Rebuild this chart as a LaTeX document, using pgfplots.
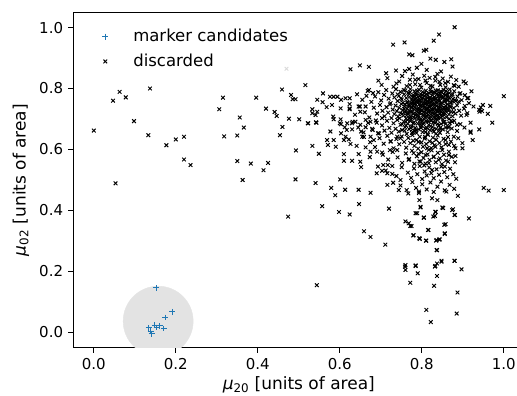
\documentclass[border=0pt]{standalone}
\usepackage{fontspec}
\setmainfont{DejaVu Sans}
\usepackage{pgfplots}
\pgfplotsset{compat=1.18}
\definecolor{tabblue}{RGB}{31,119,180}
\begin{document}
\fontsize{15}{18}\selectfont
\begin{tikzpicture}
\begin{axis}[
 scale only axis, width=451pt, height=335.4pt,
 xmin=-0.05, xmax=1.05, ymin=-0.05, ymax=1.05,
 xtick={0,0.2,0.4,0.6,0.8,1.0}, ytick={0,0.2,0.4,0.6,0.8,1.0},
 tick align=outside, xtick pos=bottom, ytick pos=left,
 major tick length=5pt,
 every tick/.style={black, line width=1pt},
 axis line style={line width=1pt},
 clip marker paths=true,
 tick label style={font=\fontsize{15}{18}\selectfont, /pgf/number format/fixed,/pgf/number format/fixed zerofill,/pgf/number format/precision=1,/pgf/number format/assume math mode=true},
 xlabel={{\itshape μ}\textsubscript{20} [units of area]},
 ylabel={{\itshape μ}\textsubscript{02} [units of area]},
 label style={font=\fontsize{17}{20}\selectfont},
 xlabel style={yshift=3pt},
 legend style={draw=none, fill=none, at={(0.055,0.962)}, anchor=north west, font=\fontsize{16.5}{19}\selectfont, row sep=6pt},
 legend cell align=left,
 legend image code/.code={\path[draw=none,fill=none] (-4pt,-4pt) (26pt,4pt); \draw[#1] plot coordinates {(0pt,0pt)};},
]
\addplot[only marks, mark=*, mark size=35pt, color=black!11, forget plot] coordinates {(0.157,0.037)};
\addplot[only marks, mark=+, color=tabblue, mark size=2.9pt, mark options={line width=1pt}] coordinates {
(0.152,0.146) (0.191,0.068) (0.174,0.049) (0.149,0.024) (0.161,0.022) (0.171,0.013)
(0.134,0.015) (0.139,0.004) (0.141,-0.004) (0.153,0.016)
};
\addlegendentry{marker candidates}
\addplot[only marks, mark=x, color=black, mark size=2.6pt, mark options={line width=0.95pt}] coordinates {
(0.000,0.662) (0.047,0.760) (0.063,0.789) (0.078,0.771) (0.053,0.489) (0.098,0.693)
(0.137,0.800) (0.133,0.647) (0.177,0.614) (0.200,0.633) (0.220,0.642) (0.220,0.567)
(0.236,0.549) (0.306,0.732) (0.315,0.770) (0.318,0.643) (0.356,0.705) (0.350,0.646)
(0.366,0.672) (0.350,0.562) (0.363,0.500) (0.383,0.554) (0.396,0.770) (0.414,0.532)
(0.420,0.734) (0.425,0.556) (0.441,0.723) (0.446,0.710) (0.454,0.647) (0.460,0.674)
(0.459,0.797) (0.474,0.380) (0.476,0.701) (0.481,0.779) (0.485,0.765) (0.492,0.765)
(0.493,0.597) (0.492,0.502) (0.501,0.699) (0.516,0.811) (0.523,0.686) (0.533,0.612)
(0.533,0.732) (0.541,0.713) (0.543,0.688) (0.541,0.490) (0.549,0.586) (0.545,0.763)
(0.544,0.155) (0.557,0.414) (0.559,0.784) (0.579,0.474) (0.589,0.450) (0.598,0.395)
(0.601,0.502) (0.613,0.468) (0.624,0.387) (0.646,0.468) (0.647,0.421) (0.659,0.332)
(0.675,0.313) (0.675,0.458) (0.711,0.288) (0.720,0.406) (0.760,0.364) (0.772,0.349)
(0.759,0.216) (0.760,0.205) (0.772,0.163) (0.785,0.220) (0.790,0.194) (0.779,0.318)
(0.795,0.307) (0.810,0.301) (0.815,0.336) (0.836,0.303) (0.842,0.305) (0.836,0.270)
(0.832,0.216) (0.837,0.226) (0.848,0.232) (0.837,0.185) (0.830,0.153) (0.880,0.235)
(0.897,0.207) (0.887,0.131) (0.811,0.074) (0.822,0.034) (0.885,0.062) (0.856,0.323)
(0.855,0.353) (0.805,0.377) (0.789,0.391) (0.797,0.410) (0.828,0.380) (0.834,0.395)
(0.852,0.408) (0.876,0.404) (0.881,0.385) (0.915,0.374) (0.951,0.474) (0.963,0.465)
(1.000,0.467) (1.000,0.775) (0.880,1.001) (0.842,0.977) (0.829,0.957) (0.758,0.951)
(0.730,0.944) (0.769,0.912) (0.777,0.909) (0.805,0.924) (0.811,0.927) (0.799,0.881)
(0.821,0.898) (0.834,0.894) (0.855,0.887) (0.872,0.896) (0.875,0.872) (0.626,0.863)
(0.649,0.876) (0.671,0.871) (0.713,0.850) (0.737,0.859) (0.769,0.864) (0.694,0.826)
(0.738,0.817) (0.940,0.730) (0.944,0.738) (0.967,0.743) (0.961,0.717) (0.972,0.688)
(0.940,0.666) (0.919,0.655) (0.924,0.631) (0.899,0.604) (0.909,0.713) (0.919,0.688)
(0.907,0.817)
(0.558,0.755) (0.576,0.773) (0.585,0.773) (0.594,0.773) (0.603,0.763) (0.614,0.768)
(0.624,0.768) (0.568,0.739) (0.581,0.746) (0.602,0.735) (0.624,0.749) (0.624,0.735)
(0.646,0.741) (0.650,0.724) (0.663,0.741) (0.671,0.795) (0.681,0.785) (0.665,0.776)
(0.533,0.719) (0.545,0.724) (0.584,0.708) (0.585,0.699) (0.602,0.699) (0.600,0.686)
(0.522,0.686) (0.542,0.689) (0.618,0.686) (0.630,0.686) (0.638,0.691) (0.650,0.681)
(0.663,0.697) (0.675,0.691) (0.690,0.688) (0.703,0.703) (0.612,0.673) (0.630,0.666)
(0.577,0.659) (0.603,0.653) (0.652,0.659) (0.663,0.673) (0.680,0.664) (0.693,0.653)
(0.569,0.631) (0.585,0.631) (0.610,0.631) (0.626,0.618) (0.614,0.642) (0.590,0.609)
(0.571,0.615) (0.610,0.585) (0.610,0.563) (0.630,0.563) (0.650,0.560) (0.646,0.585)
(0.652,0.542) (0.675,0.593) (0.673,0.575) (0.691,0.593) (0.703,0.590) (0.693,0.544)
(0.706,0.549) (0.717,0.549) (0.728,0.546) (0.722,0.598) (0.740,0.598) (0.748,0.637)
(0.724,0.626) (0.740,0.642) (0.655,0.642) (0.675,0.642) (0.683,0.631) (0.663,0.607)
(0.902,0.823) (0.890,0.806) (0.880,0.809) (0.894,0.785) (0.911,0.768) (0.890,0.757)
(0.915,0.752) (0.905,0.743) (0.949,0.746) (0.941,0.724) (0.919,0.659) (0.886,0.681)
(0.874,0.691) (0.866,0.675) (0.878,0.642) (0.858,0.631) (0.866,0.615) (0.882,0.604)
(0.866,0.582) (0.882,0.579) (0.864,0.560) (0.856,0.544) (0.841,0.566) (0.817,0.555)
(0.797,0.560) (0.768,0.566) (0.829,0.577) (0.809,0.582) (0.780,0.588) (0.850,0.598)
(0.833,0.609)
(0.690,0.522) (0.703,0.530) (0.716,0.522) (0.728,0.520) (0.716,0.484) (0.730,0.491)
(0.744,0.467) (0.748,0.500)
(0.767,0.456) (0.793,0.462) (0.794,0.434) (0.860,0.462) (0.888,0.448) (0.825,0.440)
(0.838,0.434) (0.797,0.412) (0.850,0.410) (0.785,0.391) (0.805,0.376) (0.833,0.396)
(0.832,0.382) (0.874,0.401) (0.880,0.385) (0.768,0.358) (0.775,0.349) (0.858,0.355)
(0.816,0.336) (0.856,0.325) (0.780,0.319) (0.794,0.309) (0.811,0.301) (0.835,0.301)
(0.844,0.305) (0.837,0.270) (0.848,0.235) (0.833,0.218) (0.880,0.235) (0.785,0.218)
(0.760,0.221)
(0.702,0.812) (0.716,0.834) (0.731,0.806) (0.745,0.823) (0.752,0.841) (0.763,0.808)
(0.771,0.829) (0.778,0.846) (0.784,0.814) (0.792,0.831) (0.799,0.803) (0.806,0.842)
(0.812,0.818) (0.819,0.835) (0.826,0.807) (0.833,0.826) (0.838,0.848) (0.845,0.812)
(0.851,0.833) (0.858,0.804) (0.864,0.822) (0.871,0.839) (0.878,0.811) (0.884,0.828)
(0.759,0.857) (0.812,0.861) (0.847,0.856) (0.788,0.868)
(0.642,0.781) (0.655,0.763) (0.668,0.792) (0.677,0.756) (0.686,0.774) (0.694,0.788)
(0.701,0.761) (0.708,0.779) (0.713,0.795) (0.719,0.767) (0.724,0.752) (0.728,0.784)
(0.733,0.771) (0.737,0.798) (0.741,0.759) (0.744,0.776) (0.748,0.789) (0.751,0.764)
(0.754,0.753) (0.757,0.781) (0.760,0.794) (0.762,0.769) (0.765,0.757) (0.767,0.786)
(0.770,0.773) (0.772,0.798) (0.775,0.762) (0.777,0.751) (0.779,0.779) (0.782,0.791)
(0.784,0.766) (0.786,0.784) (0.788,0.755) (0.791,0.772) (0.793,0.796) (0.795,0.761)
(0.797,0.782) (0.799,0.768) (0.802,0.789) (0.804,0.753) (0.806,0.776) (0.808,0.764)
(0.810,0.793) (0.813,0.771) (0.815,0.758) (0.817,0.785) (0.819,0.767) (0.821,0.797)
(0.824,0.754) (0.826,0.778) (0.828,0.763) (0.830,0.788) (0.832,0.771) (0.835,0.757)
(0.837,0.782) (0.839,0.794) (0.842,0.765) (0.844,0.776) (0.846,0.752) (0.849,0.787)
(0.851,0.769) (0.854,0.781) (0.856,0.758) (0.859,0.792) (0.861,0.773) (0.864,0.762)
(0.867,0.785) (0.870,0.754) (0.873,0.777) (0.876,0.766) (0.879,0.791) (0.883,0.759)
(0.887,0.774) (0.892,0.783) (0.897,0.762) (0.905,0.778) (0.913,0.769) (0.921,0.791)
(0.771,0.788) (0.778,0.758) (0.783,0.774) (0.789,0.793) (0.794,0.757) (0.801,0.779)
(0.807,0.751) (0.812,0.782) (0.818,0.762) (0.823,0.789) (0.827,0.768) (0.834,0.793)
(0.838,0.761) (0.843,0.784) (0.848,0.773) (0.853,0.796) (0.858,0.765) (0.863,0.781)
(0.868,0.797) (0.874,0.758)
(0.624,0.732) (0.637,0.714) (0.649,0.741) (0.661,0.722) (0.672,0.705) (0.683,0.737)
(0.691,0.718) (0.698,0.746) (0.704,0.727) (0.709,0.709) (0.714,0.739) (0.718,0.721)
(0.722,0.748) (0.726,0.703) (0.729,0.731) (0.733,0.716) (0.736,0.744) (0.739,0.726)
(0.742,0.708) (0.745,0.737) (0.748,0.719) (0.750,0.749) (0.753,0.729) (0.755,0.711)
(0.758,0.741) (0.760,0.723) (0.762,0.702) (0.764,0.734) (0.766,0.716) (0.768,0.746)
(0.770,0.727) (0.772,0.709) (0.774,0.738) (0.776,0.721) (0.778,0.743) (0.780,0.705)
(0.782,0.731) (0.784,0.714) (0.786,0.747) (0.788,0.725) (0.790,0.708) (0.792,0.736)
(0.794,0.719) (0.796,0.742) (0.798,0.701) (0.800,0.729) (0.802,0.713) (0.804,0.745)
(0.806,0.724) (0.808,0.707) (0.810,0.735) (0.812,0.718) (0.814,0.748) (0.816,0.727)
(0.818,0.704) (0.820,0.739) (0.822,0.715) (0.824,0.732) (0.826,0.746) (0.828,0.721)
(0.830,0.708) (0.832,0.737) (0.834,0.719) (0.836,0.743) (0.838,0.728) (0.840,0.703)
(0.842,0.734) (0.844,0.716) (0.846,0.747) (0.848,0.725) (0.851,0.709) (0.853,0.738)
(0.855,0.721) (0.858,0.744) (0.860,0.706) (0.863,0.731) (0.866,0.715) (0.869,0.742)
(0.872,0.724) (0.875,0.709) (0.878,0.736) (0.882,0.718) (0.886,0.745) (0.891,0.727)
(0.896,0.711) (0.903,0.734) (0.911,0.719) (0.926,0.741) (0.947,0.726)
(0.757,0.733) (0.763,0.712) (0.769,0.741) (0.775,0.726) (0.781,0.749) (0.787,0.717)
(0.793,0.731) (0.799,0.744) (0.805,0.711) (0.811,0.728) (0.817,0.742) (0.823,0.706)
(0.829,0.733) (0.835,0.711) (0.841,0.726) (0.847,0.738) (0.852,0.716) (0.857,0.729)
(0.862,0.748) (0.867,0.701) (0.771,0.703) (0.783,0.738) (0.796,0.722) (0.809,0.749)
(0.821,0.725) (0.833,0.747) (0.845,0.704) (0.856,0.737)
(0.741,0.781) (0.746,0.702) (0.749,0.768) (0.752,0.717) (0.756,0.795) (0.759,0.748)
(0.761,0.679) (0.764,0.754) (0.767,0.721) (0.769,0.783) (0.771,0.694) (0.773,0.752)
(0.776,0.738) (0.778,0.772) (0.780,0.718) (0.781,0.761) (0.783,0.702) (0.785,0.756)
(0.787,0.779) (0.789,0.733) (0.790,0.763) (0.792,0.711) (0.794,0.748) (0.795,0.776)
(0.797,0.729) (0.798,0.757) (0.800,0.694) (0.801,0.741) (0.803,0.768) (0.804,0.722)
(0.806,0.785) (0.807,0.737) (0.809,0.761) (0.810,0.709) (0.811,0.752) (0.813,0.733)
(0.814,0.779) (0.816,0.714) (0.817,0.754) (0.819,0.726) (0.820,0.771) (0.822,0.744)
(0.823,0.697) (0.825,0.759) (0.826,0.731) (0.828,0.786) (0.829,0.716) (0.831,0.751)
(0.832,0.702) (0.834,0.766) (0.835,0.729) (0.837,0.754) (0.838,0.712) (0.840,0.775)
(0.841,0.741) (0.843,0.759) (0.844,0.727) (0.846,0.791) (0.847,0.713) (0.849,0.753)
(0.850,0.734) (0.852,0.772) (0.853,0.689) (0.855,0.757) (0.857,0.718) (0.859,0.779)
(0.861,0.736) (0.863,0.761) (0.865,0.727) (0.867,0.771) (0.870,0.739) (0.872,0.753)
(0.875,0.781) (0.878,0.723) (0.881,0.762)
(0.752,0.683) (0.758,0.662) (0.765,0.697) (0.773,0.671) (0.779,0.686) (0.786,0.662)
(0.791,0.699) (0.798,0.671) (0.803,0.684) (0.809,0.657) (0.815,0.692) (0.821,0.676)
(0.827,0.664) (0.833,0.698) (0.839,0.684) (0.845,0.671) (0.852,0.699) (0.858,0.684)
(0.864,0.672) (0.871,0.694)
(0.796,0.812) (0.809,0.826) (0.821,0.809) (0.784,0.829) (0.843,0.822) (0.857,0.818)
(0.771,0.812) (0.833,0.838)
(0.603,0.683) (0.617,0.664) (0.631,0.691) (0.645,0.672) (0.658,0.656) (0.669,0.687)
(0.679,0.668) (0.688,0.695) (0.696,0.653) (0.703,0.679) (0.709,0.662) (0.715,0.694)
(0.721,0.671) (0.726,0.655) (0.731,0.686) (0.736,0.668) (0.740,0.697) (0.744,0.659)
(0.748,0.681) (0.752,0.664) (0.756,0.692) (0.759,0.673) (0.763,0.651) (0.766,0.684)
(0.769,0.667) (0.772,0.698) (0.775,0.676) (0.778,0.658) (0.781,0.689) (0.784,0.671)
(0.787,0.654) (0.790,0.685) (0.793,0.666) (0.796,0.696) (0.799,0.678) (0.802,0.657)
(0.805,0.688) (0.808,0.669) (0.811,0.693) (0.814,0.652) (0.817,0.681) (0.820,0.663)
(0.823,0.694) (0.826,0.674) (0.829,0.658) (0.832,0.687) (0.835,0.668) (0.838,0.697)
(0.841,0.679) (0.844,0.655) (0.847,0.684) (0.851,0.666) (0.855,0.691) (0.859,0.672)
(0.863,0.657) (0.868,0.686) (0.873,0.669) (0.879,0.694) (0.886,0.661) (0.894,0.683)
(0.904,0.672) (0.782,0.661) (0.797,0.683) (0.812,0.671) (0.828,0.689) (0.843,0.663)
(0.761,0.691) (0.776,0.654) (0.806,0.699) (0.835,0.652)
(0.622,0.633) (0.641,0.612) (0.659,0.641) (0.674,0.624) (0.686,0.608) (0.697,0.637)
(0.707,0.619) (0.716,0.645) (0.724,0.627) (0.731,0.604) (0.738,0.634) (0.745,0.617)
(0.751,0.643) (0.757,0.625) (0.762,0.606) (0.767,0.638) (0.772,0.621) (0.777,0.647)
(0.782,0.612) (0.787,0.631) (0.791,0.603) (0.795,0.642) (0.799,0.623) (0.803,0.609)
(0.807,0.636) (0.811,0.618) (0.815,0.648) (0.819,0.627) (0.823,0.605) (0.827,0.639)
(0.831,0.614) (0.835,0.632) (0.839,0.646) (0.843,0.621) (0.848,0.607) (0.853,0.635)
(0.858,0.618) (0.864,0.641) (0.871,0.626) (0.879,0.612) (0.889,0.637) (0.899,0.621)
(0.792,0.625) (0.813,0.604) (0.826,0.622) (0.808,0.641) (0.779,0.629)
(0.705,0.583) (0.718,0.567) (0.729,0.592) (0.741,0.574) (0.752,0.556) (0.761,0.587)
(0.769,0.569) (0.776,0.596) (0.782,0.553) (0.788,0.578) (0.794,0.561) (0.799,0.591)
(0.804,0.572) (0.809,0.554) (0.814,0.584) (0.819,0.566) (0.824,0.597) (0.829,0.575)
(0.834,0.558) (0.839,0.589) (0.844,0.571) (0.849,0.552) (0.854,0.583) (0.859,0.564)
(0.866,0.593) (0.873,0.576) (0.881,0.558) (0.792,0.586) (0.817,0.599)
(0.712,0.531) (0.738,0.513) (0.751,0.542) (0.766,0.524) (0.774,0.507) (0.781,0.538)
(0.789,0.519) (0.795,0.546) (0.801,0.503) (0.807,0.528) (0.812,0.515) (0.818,0.541)
(0.823,0.522) (0.829,0.506) (0.836,0.535) (0.842,0.517) (0.848,0.544) (0.855,0.526)
(0.862,0.509) (0.869,0.537) (0.877,0.519) (0.884,0.504) (0.806,0.548) (0.825,0.533)
(0.748,0.482) (0.763,0.467) (0.777,0.493) (0.786,0.474) (0.793,0.457) (0.801,0.486)
(0.812,0.469) (0.821,0.492) (0.829,0.461) (0.838,0.478) (0.847,0.495) (0.856,0.466)
(0.868,0.484) (0.879,0.471)
};
\addlegendentry{discarded}
\addplot[only marks, mark=x, color=black!15, mark size=2.6pt, mark options={line width=0.95pt}, forget plot] coordinates {(0.470,0.865)};
\end{axis}
\pgfresetboundingbox
\path (current axis.south west) ++(-73.3pt,-48.3pt) rectangle ++(517pt,396pt);
\end{tikzpicture}
\end{document}
